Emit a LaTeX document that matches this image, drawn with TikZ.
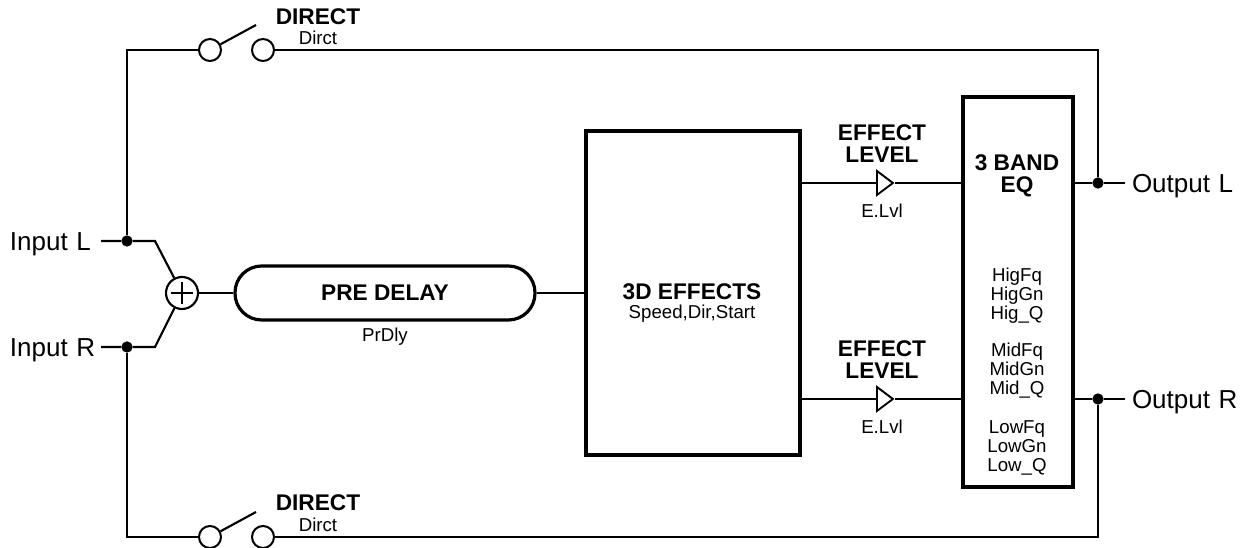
\documentclass[tikz,border=0pt]{standalone}
\usepackage{fontspec}
\setmainfont{Liberation Sans}
\usetikzlibrary{arrows.meta, positioning, shapes.geometric, calc}
\begin{document}
\begin{tikzpicture}[
    x=0.75pt, y=-0.75pt,
    wire/.style={line width=1.6pt},
    term/.style={draw, circle, line width=1.5pt, minimum size=16.5pt, inner sep=0pt, fill=white},
    dotnode/.style={fill, circle, minimum size=8.5pt, inner sep=0pt},
    bigtext/.style={font=\fontsize{19.5}{22}\selectfont, inner sep=0pt, text height=14pt, text depth=0pt, align=left},
    headtext/.style={font=\fontsize{17}{16.5}\selectfont\bfseries, inner sep=0pt, align=center},
    smalltext/.style={font=\fontsize{14}{14.25}\selectfont, inner sep=0pt, align=center},
    amp/.style={draw, isosceles triangle, isosceles triangle stretches, line width=1.4pt, minimum width=18pt, minimum height=12pt, inner sep=0pt, fill=white},
    sumnode/.style={draw, circle, line width=1.6pt, minimum size=24pt, inner sep=0pt,
        path picture={\draw[line width=1.6pt] ($(path picture bounding box.center)+(-8.5pt,0)$) -- ($(path picture bounding box.center)+(8.5pt,0)$);
                      \draw[line width=1.6pt] ($(path picture bounding box.center)+(0,-8.5pt)$) -- ($(path picture bounding box.center)+(0,8.5pt)$);}},
    pill/.style={draw, line width=2.4pt, rounded corners=20pt, minimum width=225pt, minimum height=40.5pt, inner sep=0pt},
    fxblock/.style={draw, line width=2.6pt, minimum width=160.5pt, minimum height=243pt, inner sep=0pt},
    eqblock/.style={draw, line width=3pt, minimum width=82.5pt, minimum height=292.5pt, inner sep=0pt}
]
\useasboundingbox (0,0) rectangle (1243,548);

\node[bigtext, text width=66pt, outer sep=2.25pt] (inl) at (54,241) {Input L};
\node[bigtext, text width=66pt, outer sep=2.25pt] (inr) at (54,347) {Input R};
\node[bigtext, text width=81pt, outer sep=5pt] (outl) at (1186,183) {Output L};
\node[bigtext, text width=81pt, outer sep=5pt] (outr) at (1186,399) {Output R};

\node[dotnode] (dotl) at (127,241) {};
\node[dotnode] (dotr) at (127,347) {};
\node[dotnode] (dotol) at (1098,183) {};
\node[dotnode] (dotor) at (1098,399) {};

\coordinate (bendl) at (155,241);
\coordinate (bendr) at (155,347);
\node[sumnode] (sum) at (182,293) {};

\node[pill] (delay) at (385,293) {};
\node[headtext] (delaytext) at (385,293) {PRE DELAY};
\node[smalltext] (delaypar) at (385,337) {PrDly};

\node[fxblock] (fx) at (693,293) {};
\node[headtext] (fxtext) at (692,292) {3D EFFECTS};
\node[smalltext] (fxpar) at (692,314) {Speed,Dir,Start};

\node[eqblock] (eq) at (1018,292) {};
\node[headtext] (eqtext) at (1017,176) {3 BAND\\EQ};
\node[smalltext] (eqhig) at (1017,296) {HigFq\\HigGn\\Hig\_Q};
\node[smalltext] (eqmid) at (1017,371) {MidFq\\MidGn\\Mid\_Q};
\node[smalltext] (eqlow) at (1017,448) {LowFq\\LowGn\\Low\_Q};

\node[amp, anchor=west] (ampl) at (876,183) {};
\node[amp, anchor=west] (ampr) at (876,399) {};
\node[headtext] (fxlvll) at (882,144) {EFFECT\\LEVEL};
\node[headtext] (fxlvlr) at (882,360) {EFFECT\\LEVEL};
\node[smalltext] (parl) at (882,211) {E.Lvl};
\node[smalltext] (parr) at (882,427) {E.Lvl};

\node[term] (swta) at (210,50) {};
\node[term] (swtb) at (263,50) {};
\node[term] (swba) at (210,537) {};
\node[term] (swbb) at (263,537) {};
\coordinate (bladet) at (256,25);
\coordinate (bladeb) at (256,512);
\node[headtext] (dirt) at (318,17) {DIRECT};
\node[smalltext] (dirtpar) at (318,38) {Dirct};
\node[headtext] (dirb) at (318,503) {DIRECT};
\node[smalltext] (dirbpar) at (318,525) {Dirct};

\draw[wire] (inl) -- (dotl) -- (bendl) -- (sum);
\draw[wire] (inr) -- (dotr) -- (bendr) -- (sum);
\draw[wire] (sum) -- (delay);
\draw[wire] (delay) -- (fx);
\draw[wire] (dotl) |- (swta);
\draw[wire] (dotr) |- (swba);
\draw[wire] (swta) -- (bladet);
\draw[wire] (swba) -- (bladeb);
\draw[wire] (swtb) -| (dotol);
\draw[wire] (swbb) -| (dotor);
\draw[wire] (ampl.west -| fx.east) -- (ampl.west);
\draw[wire] (ampr.west -| fx.east) -- (ampr.west);
\draw[wire] (ampl.apex) -- (ampl.apex -| eq.west);
\draw[wire] (ampr.apex) -- (ampr.apex -| eq.west);
\draw[wire] (dotol -| eq.east) -- (dotol) -- (outl);
\draw[wire] (dotor -| eq.east) -- (dotor) -- (outr);
\end{tikzpicture}
\end{document}
